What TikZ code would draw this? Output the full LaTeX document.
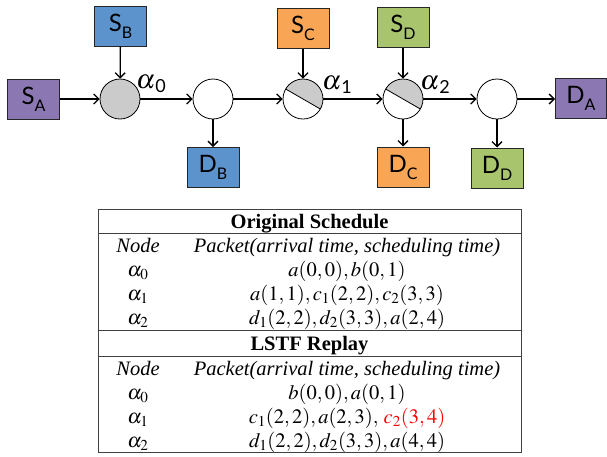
\documentclass[tikz,border=0pt]{standalone}
\usepackage{mathptmx}
\usepackage{fontspec}
\setmainfont{Liberation Serif}
\newfontfamily\diagfont{Lato}
\usetikzlibrary{arrows.meta,calc}
\definecolor{cpurple}{HTML}{8B78B2}
\definecolor{cblue}{HTML}{5D93CD}
\definecolor{corange}{HTML}{F8A555}
\definecolor{cgreen}{HTML}{A8C46C}
\definecolor{splitgray}{HTML}{CBCBCB}
\newcommand\boxlbl[2]{#1\raisebox{-7pt}{\fontsize{16}{16}\selectfont #2}}
\newcommand\alab[1]{{\fontsize{27}{27}\selectfont$\alpha$}\raisebox{-4pt}{\fontsize{18}{18}\selectfont\diagfont #1}}
\begin{document}
\begin{tikzpicture}[x=1pt,y=1pt,
  box/.style={draw=black!85, line width=1pt, minimum width=52pt, minimum height=40pt,
    inner sep=0pt, font=\diagfont\fontsize{24}{24}\selectfont},
  circ/.style={circle, draw=black, line width=0.8pt, fill=white, minimum size=40pt, inner sep=0pt},
  grayc/.style={circ, fill=splitgray},
  splitc/.style={circ, path picture={
    \fill[splitgray] ($(path picture bounding box.center)+(150:20pt)$)
      arc[start angle=150,end angle=-30,radius=20pt] -- cycle;
    \draw[line width=0.8pt] ($(path picture bounding box.center)+(150:20pt)$)
      -- ($(path picture bounding box.center)+(-30:20pt)$);}},
  arr/.style={-{Straight Barb[length=5pt,width=10pt,line width=1.3pt]}, line width=1.3pt},
  tline/.style={draw=black!75, line width=0.9pt},
  ttext/.style={anchor=base, inner sep=0pt, font=\fontsize{20.5}{22}\selectfont},
  alab/.style={inner sep=0pt}
]
\useasboundingbox (0,0) rectangle (607,-456);

% ---- diagram nodes ----
\node[box, fill=cpurple] (SA) at (33.5,-99) {\boxlbl{S}{A}};
\node[box, fill=cblue]   (SB) at (120.5,-26) {\boxlbl{S}{B}};
\node[grayc]  (c0) at (120,-99) {};
\node[circ]   (c1) at (213,-99) {};
\node[box, fill=cblue]   (DB) at (213,-167.5) {\boxlbl{D}{B}};
\node[splitc] (a1) at (303,-99) {};
\node[box, fill=corange] (SC) at (303,-28) {\boxlbl{S}{C}};
\node[splitc] (a2) at (403,-99) {};
\node[box, fill=cgreen]  (SD) at (403,-27) {\boxlbl{S}{D}};
\node[box, fill=corange] (DC) at (403,-167) {\boxlbl{D}{C}};
\node[circ]   (c5) at (497,-99) {};
\node[box, fill=cgreen]  (DD) at (497,-168) {\boxlbl{D}{D}};
\node[box, fill=cpurple, minimum width=51pt] (DA) at (581,-98.5) {\boxlbl{D}{A}};

\node[alab] (l0) at (151,-84) {\alab{0}};
\node[alab] (l1) at (337,-85) {\alab{1}};
\node[alab] (l2) at (435,-85) {\alab{2}};

% ---- connectors ----
\draw[arr] (SA) -- (c0);
\draw[arr] (SB) -- (c0);
\draw[arr] (c0) -- (c1);
\draw[arr] (c1) -- (DB);
\draw[arr] (c1) -- (a1);
\draw[arr] (SC) -- (a1);
\draw[arr] (a1) -- (a2);
\draw[arr] (SD) -- (a2);
\draw[arr] (a2) -- (DC);
\draw[arr] (a2) -- (c5);
\draw[arr] (c5) -- (DD);
\draw[arr] (c5.east) -- (DA.west |- c5.east);

% ---- table ----
\draw[tline] (98,-209) rectangle (521,-452);
\draw[tline] (98,-233) -- (521,-233);
\draw[tline] (98,-330) -- (521,-330);
\draw[tline] (98,-356) -- (521,-356);

\node[ttext] (h1) at (309.5,-228) {\textbf{Original Schedule}};
\node[ttext] (n1) at (138,-252) {\textit{Node}};
\node[ttext] (p1) at (347,-252) {\textit{Packet(arrival time, scheduling time)}};
\node[ttext] (r1a) at (138,-276) {$\alpha_0$};
\node[ttext] (r1b) at (347,-276) {$a(0,0),b(0,1)$};
\node[ttext] (r2a) at (138,-300) {$\alpha_1$};
\node[ttext] (r2b) at (347,-300) {$a(1,1),c_1(2,2),c_2(3,3)$};
\node[ttext] (r3a) at (138,-324) {$\alpha_2$};
\node[ttext] (r3b) at (347,-324) {$d_1(2,2),d_2(3,3),a(2,4)$};

\node[ttext] (h2) at (309.5,-350) {\textbf{LSTF Replay}};
\node[ttext] (n2) at (138,-375) {\textit{Node}};
\node[ttext] (p2) at (347,-375) {\textit{Packet(arrival time, scheduling time)}};
\node[ttext] (s1a) at (138,-399) {$\alpha_0$};
\node[ttext] (s1b) at (347,-399) {$b(0,0),a(0,1)$};
\node[ttext] (s2a) at (138,-423) {$\alpha_1$};
\node[ttext] (s2b) at (347,-423) {$c_1(2,2),a(2,3),\ $\textcolor{red}{$c_2(3,4)$}};
\node[ttext] (s3a) at (138,-447) {$\alpha_2$};
\node[ttext] (s3b) at (347,-447) {$d_1(2,2),d_2(3,3),a(4,4)$};
\end{tikzpicture}
\end{document}
